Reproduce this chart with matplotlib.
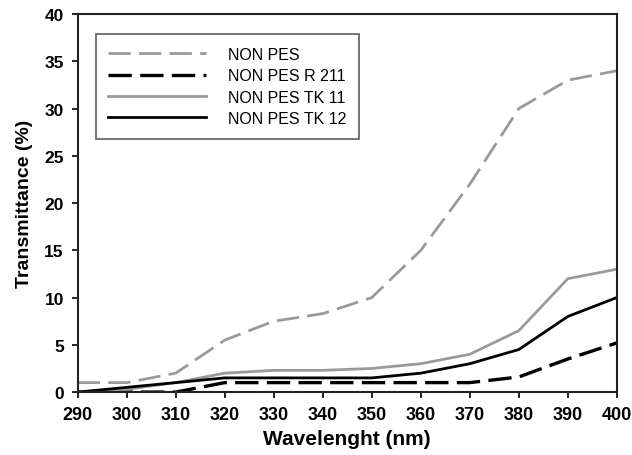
import matplotlib
matplotlib.use('Agg')
import matplotlib.pyplot as plt

# wavelength axis and the four curves
wavelength = [290, 300, 310, 320, 330, 340, 350, 360, 370, 380, 390, 400]
non_pes = [1.0, 1.0, 2.0, 5.5, 7.5, 8.3, 10.0, 15.0, 22.0, 30.0, 33.0, 34.0]
non_pes_r211 = [0.0, 0.0, 0.0, 1.0, 1.0, 1.0, 1.0, 1.0, 1.0, 1.6, 3.5, 5.2]
non_pes_tk11 = [0.0, 0.3, 1.0, 2.0, 2.3, 2.3, 2.5, 3.0, 4.0, 6.5, 12.0, 13.0]
non_pes_tk12 = [0.0, 0.5, 1.0, 1.5, 1.5, 1.5, 1.5, 2.0, 3.0, 4.5, 8.0, 10.0]
labels = ['NON PES', 'NON PES R 211', 'NON PES TK 11', 'NON PES TK 12']

plt.rcParams['font.family'] = ['Liberation Sans', 'DejaVu Sans']

fig = plt.figure(figsize=(6.32, 4.56), dpi=100)
ax = fig.add_axes([0.123, 0.138, 0.853, 0.829])

grey = '#9a9a9a'
ax.plot(wavelength, non_pes, color=grey, lw=2.0, dashes=(8, 3), label=labels[0])
ax.plot(wavelength, non_pes_r211, color='black', lw=2.4, dashes=(7, 2.5), label=labels[1])
ax.plot(wavelength, non_pes_tk11, color=grey, lw=2.0, label=labels[2])
ax.plot(wavelength, non_pes_tk12, color='black', lw=2.0, label=labels[3])

ax.set_xlim(290, 400)
ax.set_ylim(0, 40)
ax.set_xticks(range(290, 401, 10))
ax.set_yticks(range(0, 41, 5))
for lab in ax.get_xticklabels():
    lab.set_fontweight('bold')
    lab.set_fontsize(13)
for lab in ax.get_yticklabels():
    lab.set_fontweight('bold')
    lab.set_fontsize(12.5)
ax.tick_params(direction='out', length=4, width=1.2, color='black', pad=6)
for sp in ax.spines.values():
    sp.set_linewidth(1.5)
    sp.set_color('#222222')

ax.set_xlabel('Wavelenght (nm)', fontsize=15, fontweight='bold', labelpad=4)
ax.set_ylabel('Transmittance (%)', fontsize=14, fontweight='bold', labelpad=8)

leg = ax.legend(loc='upper left', bbox_to_anchor=(0.033, 0.947), fontsize=11.5,
                frameon=True, fancybox=False, edgecolor='#333333',
                handlelength=6.1, handletextpad=1.4, labelspacing=0.4,
                borderpad=0.8, borderaxespad=0.0)
leg.get_frame().set_linewidth(1.2)

fig.savefig('out.png', dpi=100)
plt.close(fig)
